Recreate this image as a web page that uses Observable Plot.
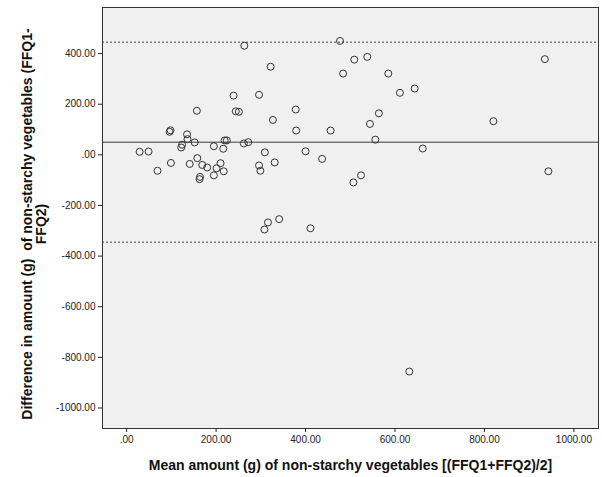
<!DOCTYPE html>
<html>
<head>
<meta charset="utf-8">
<script src="https://cdn.jsdelivr.net/npm/d3@7"></script>
<script src="https://cdn.jsdelivr.net/npm/@observablehq/plot@0.6"></script>
<style>
  html, body { margin: 0; padding: 0; background: white; }
</style>
</head>
<body>
<div id="chart"></div>
<script>
// Mean amount (x) and difference (y) for each participant
const meanAmount = [29, 49, 69, 99, 96, 98, 135, 136, 124, 122, 152, 157, 141, 158, 169, 180, 164, 163,
  195, 195, 201, 210, 217, 216, 219, 224, 239, 244, 251, 263, 262, 272, 296, 309, 296, 299, 331, 322,
  327, 378, 379, 400, 437, 456, 477, 484, 509, 538, 585, 611, 644, 564, 544, 556, 662, 524, 507, 820,
  935, 943, 308, 316, 341, 411, 632];
const difference = [12, 13, -63, -32, 91, 97, 81, 62, 40, 29, 49, 174, -36, -13, -40, -50, -87, -96,
  34, -81, -53, -33, -65, 24, 57, 57, 234, 172, 170, 431, 45, 50, 237, 10, -42, -63, -30, 348,
  138, 179, 96, 14, -16, 96, 450, 321, 376, 387, 321, 245, 262, 164, 122, 60, 25, -81, -109, 133,
  378, -65, -295, -267, -254, -290, -856];

// Bland-Altman reference lines
const meanDifference = [50];
const limitsOfAgreement = [445, -345];

// Tick values
const xTicks = [0, 200, 400, 600, 800, 1000];
const yTicks = [400, 200, 0, -200, -400, -600, -800, -1000];

const xLabel = "Mean amount (g) of non-starchy vegetables [(FFQ1+FFQ2)/2]";
const yLabel = "Difference in amount (g)  of non-starchy vegetables (FFQ1-\nFFQ2)";

const points = meanAmount.map((m, i) => ({x: m, y: difference[i]}));
const fmt = d => d === 0 ? ".00" : d.toFixed(2);

const chart = Plot.plot({
  width: 602,
  height: 477,
  marginLeft: 102,
  marginRight: 4,
  marginTop: 7,
  marginBottom: 49,
  style: {fontFamily: "'Liberation Sans', Arial, sans-serif", fontSize: "10px", background: "white", color: "#222"},
  x: {domain: [-54, 1055]},
  y: {domain: [-1081, 582]},
  marks: [
    Plot.frame({fill: "#f0f0f0", stroke: null}),
    Plot.ruleY(meanDifference, {stroke: "#3a3a3a", strokeWidth: 1}),
    Plot.ruleY(limitsOfAgreement, {stroke: "#777", strokeWidth: 1.5, strokeDasharray: "2,2"}),
    Plot.dot(points, {x: "x", y: "y", r: 3.5, stroke: "#333", strokeWidth: 1, fill: "none"}),
    Plot.frame({stroke: "#333", strokeWidth: 1}),
    Plot.axisX({ticks: xTicks, tickFormat: fmt, tickSize: 4, tickPadding: 3, label: null, color: "#222"}),
    Plot.axisY({ticks: yTicks, tickFormat: fmt, tickSize: 4, tickPadding: 3, label: null, color: "#222"}),
    Plot.text([xLabel], {text: d => d, frameAnchor: "bottom", dy: 37, lineAnchor: "middle", textAnchor: "middle",
      fontSize: 14, fontWeight: "bold", fill: "#111"}),
    Plot.text([yLabel], {text: d => d, frameAnchor: "left", dx: -68, dy: 6, rotate: -90, lineAnchor: "middle",
      textAnchor: "middle", fontSize: 14, fontWeight: "bold", fill: "#111", lineHeight: 1})
  ]
});
document.getElementById("chart").appendChild(chart);
</script>
</body>
</html>
